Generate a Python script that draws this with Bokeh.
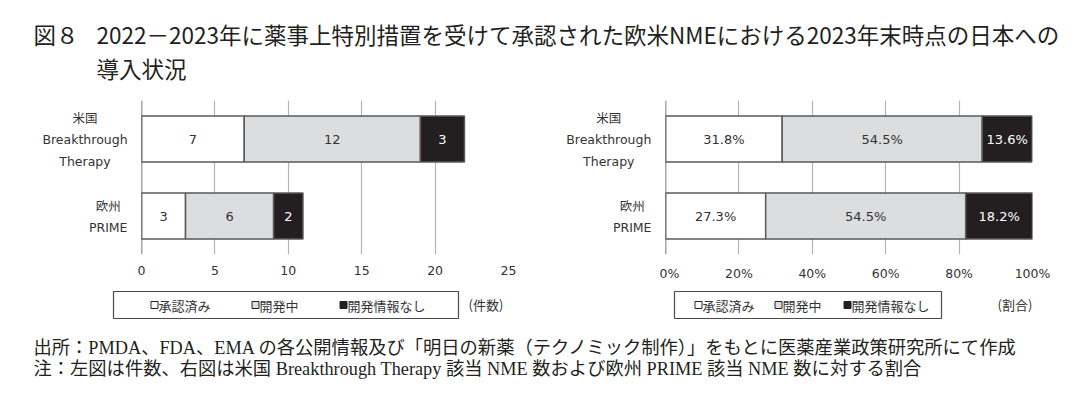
from bokeh.plotting import figure
from bokeh.layouts import column, row
from bokeh.models import (ColumnDataSource, FactorRange, Range1d, Span,
                          FixedTicker, PrintfTickFormatter)
from bokeh.core.properties import value
from bokeh.embed import file_html
from bokeh.resources import INLINE

# ---------------- data ----------------
categories = ["米国", "欧州"]
category_lines = [["米国", "Breakthrough", "Therapy"], ["欧州", "PRIME"]]
series = ["承認済み", "開発中", "開発情報なし"]

approved_count = [7, 3]
developing_count = [12, 6]
noinfo_count = [3, 2]

approved_pct = [31.8, 27.3]
developing_pct = [54.5, 54.5]
noinfo_pct = [13.6, 18.2]

count_ticks = [0, 5, 10, 15, 20, 25]
pct_ticks = [0, 20, 40, 60, 80, 100]
unit_labels = ["(件数)", "(割合)"]

title_head = "図８"
title_line1 = "2022－2023年に薬事上特別措置を受けて承認された欧米NMEにおける2023年末時点の日本への"
title_line2 = "導入状況"
footer_lines = [
    "出所：PMDA、FDA、EMA の各公開情報及び「明日の新薬（テクノミック制作）」をもとに医薬産業政策研究所にて作成",
    "注：左図は件数、右図は米国 Breakthrough Therapy 該当 NME 数および欧州 PRIME 該当 NME 数に対する割合",
]

# ---------------- style ----------------
fills = ["#ffffff", "#dcdddf", "#231f20"]
label_colors = ["#333333", "#333333", "#ffffff"]
edge = "#5a5a5a"
latin_font = value("DejaVu Sans")
cjk_font = value("Noto Sans CJK JP")
TXT = "#231f20"
factor_order = ["欧州", "米国"]   # bottom to top
CH_H, CH_TOP, CH_BOT = 196, 12, 30


def blank(width, height, xr, yr, **kw):
    p = figure(width=width, height=height, x_range=xr, y_range=yr,
               output_backend="svg", toolbar_location=None,
               x_axis_location=None, y_axis_location=None, **kw)
    p.grid.visible = False
    p.outline_line_color = None
    return p


def make_labels(width, centers):
    p = blank(width, CH_H, Range1d(0, width), FactorRange(factors=factor_order),
              min_border_left=0, min_border_right=0,
              min_border_top=CH_TOP, min_border_bottom=CH_BOT)
    xs, ys, ts, fs = [], [], [], []
    for cat, lines, cx in zip(categories, category_lines, centers):
        n = len(lines)
        for k, line in enumerate(lines):
            xs.append(cx)
            ys.append(cat)
            ts.append(line)
            fs.append(((n - 1) / 2 - k) * 22)
    cjk = [any(ord(ch) > 0x2FFF for ch in t) for t in ts]
    for flag, font in ((True, cjk_font), (False, latin_font)):
        idx = [i for i, c in enumerate(cjk) if c == flag]
        src = ColumnDataSource(dict(x=[xs[i] for i in idx], y=[ys[i] for i in idx],
                                    t=[ts[i] for i in idx], off=[-fs[i] for i in idx]))
        p.text(x="x", y="y", text="t", y_offset="off", source=src,
               text_align="center", text_baseline="middle",
               text_font=font, text_font_size="12.5px", text_color="#333333")
    return p


def make_chart(vals, xmax, ticks, is_pct, width, left_border, right_border):
    p = figure(width=width, height=CH_H,
               y_range=FactorRange(factors=factor_order),
               x_range=Range1d(0, xmax),
               output_backend="svg", toolbar_location=None, y_axis_location=None,
               min_border_left=left_border, min_border_right=right_border,
               min_border_top=CH_TOP, min_border_bottom=CH_BOT)
    p.outline_line_color = None
    src = ColumnDataSource(dict(cat=categories, a=vals[0], d=vals[1], n=vals[2]))
    p.hbar_stack(["a", "d", "n"], y="cat", height=0.6, source=src,
                 fill_color=fills, line_color=edge, line_width=1.5)

    xs, ys, ts, cs = [], [], [], []
    for i, cat in enumerate(categories):
        left = 0
        for j in range(3):
            v = vals[j][i]
            xs.append(left + v / 2)
            ys.append(cat)
            ts.append(f"{v:.1f}%" if is_pct else str(v))
            cs.append(label_colors[j])
            left += v
    lsrc = ColumnDataSource(dict(x=xs, y=ys, t=ts, c=cs))
    p.text(x="x", y="y", text="t", text_color="c", source=lsrc,
           text_align="center", text_baseline="middle",
           text_font=latin_font, text_font_size="13px")

    p.xaxis.ticker = FixedTicker(ticks=ticks)
    if is_pct:
        p.xaxis.formatter = PrintfTickFormatter(format="%d%%")
    p.xaxis.axis_line_color = None
    p.xaxis.major_tick_line_color = None
    p.xaxis.minor_tick_line_color = None
    p.xaxis.major_tick_out = 0
    p.xaxis.major_label_standoff = 11
    p.xaxis.major_label_text_font = "DejaVu Sans"
    p.xaxis.major_label_text_font_size = "12.5px"
    p.xaxis.major_label_text_color = "#333333"

    p.xgrid.ticker = FixedTicker(ticks=ticks)
    p.xgrid.grid_line_color = "#b4b4b4"
    p.xgrid.grid_line_width = 1.2
    p.ygrid.visible = False

    p.add_layout(Span(location=0, dimension="height", line_color="#4d4d4d", line_width=1.5))
    return p


def make_legend():
    W, H = 1074, 42
    p = blank(W, H, Range1d(0, W), Range1d(H, 0), min_border=0)
    boxes = [(113, 458), (674, 941)]
    sq_x = [[154, 255, 343], [698, 778, 847]]
    tx_x = [[158, 259, 347], [702, 782, 851]]
    unit_x = [468, 997]
    for b, sx, tx, ux, ut in zip(boxes, sq_x, tx_x, unit_x, unit_labels):
        p.quad(left=[b[0]], right=[b[1]], top=[7], bottom=[34],
               fill_color=None, line_color="#4a4a4a", line_width=1.2)
        p.scatter(x=sx, y=[20.5] * 3, marker="square", size=7,
                  fill_color=fills, line_color="#222222", line_width=1)
        p.text(x=tx, y=[20.5] * 3, text=series, text_baseline="middle",
               text_font=cjk_font, text_font_size="13px", text_color="#333333")
        p.text(x=[ux], y=[20], text=[ut], text_baseline="middle",
               text_font=cjk_font, text_font_size="13px", text_color="#333333")
    return p


left_labels = make_labels(135, [84.5, 107.7])
left_chart = make_chart([approved_count, developing_count, noinfo_count], 25, count_ticks,
                        False, 405, 6, 32)
right_labels = make_labels(119, [68.3, 91.7])
right_chart = make_chart([approved_pct, developing_pct, noinfo_pct], 100, pct_ticks,
                         True, 415, 6, 42)

legend_fig = make_legend()

title_fig = blank(1074, 88, Range1d(0, 1074), Range1d(88, 0), min_border=0)
title_fig.text(x=[33, 96, 96], y=[33, 33, 67], text=[title_head, title_line1, title_line2],
               text_baseline="middle", text_font=cjk_font, text_font_size="22.5px",
               text_color=TXT)

footer_fig = blank(1074, 69, Range1d(0, 1074), Range1d(69, 0), min_border=0)
footer_fig.text(x=[33, 33], y=[21, 42], text=footer_lines, text_baseline="middle",
                text_font=value("Liberation Serif, Noto Sans CJK JP"), text_font_size="18.3px",
                text_color=TXT)

layout = column(title_fig,
                row(left_labels, left_chart, right_labels, right_chart),
                legend_fig,
                footer_fig)

open("out.html", "w").write(file_html(layout, INLINE))
